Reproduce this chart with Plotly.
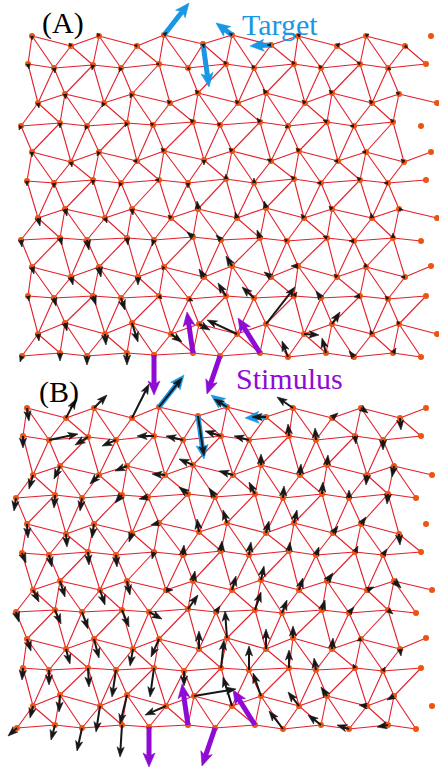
import math
import plotly.graph_objects as go

# ---------------------------------------------------------------------------
# Node positions of the network (pixel units, panel A frame), 12 rows x 13 cols
# ---------------------------------------------------------------------------
NODE_X = [
    [32, 71, 99, 137, 164, 203, 232, 271, 298, 337, 366, 405, 431],
    [28, 54, 93, 121, 159, 188, 226, 254, 294, 321, 360, 388, 426],
    [38, 65, 104, 132, 170, 198, 238, 266, 305, 332, 372, 399, 437],
    [21, 60, 87, 127, 153, 193, 220, 260, 288, 327, 354, 393, 421],
    [32, 71, 99, 137, 164, 204, 232, 271, 299, 338, 366, 404, 431],
    [27, 54, 93, 121, 159, 188, 226, 254, 294, 321, 360, 388, 426],
    [38, 65, 105, 132, 171, 198, 237, 266, 304, 332, 372, 399, 437],
    [21, 60, 87, 127, 154, 193, 221, 260, 287, 327, 354, 393, 421],
    [32, 71, 99, 138, 164, 204, 232, 271, 298, 337, 366, 405, 431],
    [28, 54, 93, 121, 159, 189, 226, 254, 294, 321, 360, 388, 426],
    [38, 65, 105, 132, 171, 199, 237, 266, 304, 332, 372, 399, 437],
    [22, 60, 87, 127, 154, 193, 220, 260, 288, 326, 354, 393, 421],
]
NODE_Y = [
    [36, 46, 36, 46, 35, 44, 35, 45, 36, 46, 36, 46, 36],
    [64, 68, 65, 68, 64, 68, 64, 68, 64, 68, 64, 68, 64],
    [103, 94, 103, 94, 103, 93, 103, 93, 103, 93, 103, 94, 103],
    [126, 123, 126, 123, 125, 122, 125, 122, 126, 122, 126, 122, 126],
    [152, 162, 152, 161, 151, 160, 151, 161, 151, 161, 152, 162, 152],
    [181, 183, 180, 183, 180, 183, 179, 183, 179, 183, 180, 183, 180],
    [218, 209, 218, 209, 218, 209, 218, 208, 218, 209, 218, 209, 218],
    [240, 238, 240, 238, 240, 237, 240, 238, 241, 238, 241, 238, 241],
    [267, 277, 267, 277, 267, 277, 266, 277, 266, 277, 267, 277, 266],
    [296, 298, 296, 298, 296, 299, 296, 298, 296, 298, 296, 299, 296],
    [334, 323, 334, 323, 334, 324, 334, 324, 334, 324, 334, 324, 334],
    [356, 353, 356, 353, 355, 353, 356, 353, 357, 353, 357, 353, 357],
]

# Bonds removed from the full lattice in each panel
MISSING_A = [((1, 5), (2, 4))]
MISSING_B = []

# Bonds reaching the boundary column (col 12)
RIGHT_A = [((1, 12), (0, 11)), ((1, 12), (1, 11)), ((2, 12), (2, 11)),
           ((4, 12), (4, 11)), ((5, 12), (5, 11)), ((6, 12), (6, 11)),
           ((7, 12), (7, 11)), ((8, 12), (8, 11)), ((9, 12), (9, 11)),
           ((9, 12), (10, 11)), ((10, 12), (10, 11)), ((11, 12), (11, 11)),
           ((11, 12), (10, 11))]
RIGHT_B = [((0, 12), (0, 11)), ((1, 12), (0, 11)), ((1, 12), (1, 11)),
           ((2, 12), (2, 11)), ((3, 12), (3, 11)), ((3, 12), (2, 11)),
           ((5, 12), (5, 11)), ((5, 12), (4, 11)), ((6, 12), (6, 11)),
           ((7, 12), (7, 11)), ((7, 12), (6, 11)), ((8, 12), (8, 11)),
           ((9, 12), (9, 11)), ((9, 12), (10, 11)), ((11, 12), (11, 11)),
           ((11, 12), (10, 11))]

# Target displacements (blue) and stimulus displacements (purple)
TARGET = {(0, 4): (25, -32), (0, 5): (6, 43), (0, 6): (-16, -12), (0, 7): (-21, 1)}
STIMULUS = {(11, 4): (0, 40), (11, 5): (-6, -41), (11, 6): (-13, 38), (11, 7): (-22, -35)}

# Node responses (dx, dy) per row, panel A
RESP_A = [
    [(0, 4), (-2, -3), (-2, -3), (-3, -1), (3, -3), (1, 4), (-3, -2), (-4, 0), (3, -3), (3, -3), (3, -2), (3, 2), None],
    [(1, 5), (1, 5), (-1, 5), (-2, 4), (-3, 0), (2, 2), (-2, -3), (-2, -3), (-2, -3), (-2, -3), (-3, -2), (3, 2), None],
    [(1, 5), (1, 5), (-2, 4), (-2, 4), (-3, -3), (-3, -3), (-3, -3), (-3, -4), (-3, -3), (-3, -3), (-3, -3), (-3, -2), None],
    [(-2, 4), (0, 5), (-2, 4), (-2, 4), (-3, -2), (-3, -3), (-3, -2), (-3, -4), (-3, 2), (-4, -2), (-4, 0), (-2, -3), None],
    [(0, 5), (1, 5), (-2, 4), (-4, 0), (-3, -3), (0, 5), (-3, -3), (-4, -2), (-3, -3), (-4, 0), (-4, 0), (-3, -3), None],
    [(0, 5), (0, 5), (0, 5), (-2, 4), (-4, 0), (0, 5), (0, -5), (0, -5), (-3, -3), (-4, 0), (-3, -3), (-4, 0), None],
    [(2, 8), (2, 7), (2, 5), (1, 6), (-3, -3), (-1, -8), (-2, -6), (-2, -7), (-3, -4), (-3, -3), (-1, -5), (4, 1), None],
    [(1, 7), (2, 7), (2, 10), (1, 7), (-2, 6), (-6, -5), (-5, -5), (-3, -8), (-3, -2), (-4, -2), (-5, 0), (0, -5), None],
    [(2, 7), (2, 8), (2, 10), (0, 8), (-2, 3), (-5, -8), (-6, -10), (-7, -5), (-7, 0), (-3, -3), (-1, -4), (-4, 0), None],
    [(1, 5), (2, 8), (3, 9), (4, 12), (3, 3), (4, 2), (-8, -13), (-12, -11), (3, -4), (-5, -7), (-6, 1), (-3, -3), None],
    [(1, 7), (2, 8), (1, 11), (6, 19), (11, 8), (11, 6), (-30, -14), (29, -37), (15, 1), (8, -12), (-2, -4), (-2, -3), None],
    [(-2, 6), (0, 8), (0, 9), (0, 12), None, None, None, None, (-6, -16), (-4, -15), (-5, -6), (3, -5), None],
]

# Node responses (dx, dy) per row, panel B
RESP_B = [
    [(2, 13), (10, -19), (13, -13), (17, -34), (23, -29), (6, 40), (-13, -8), (-14, 0), (-16, -11), (6, -5), (7, 5), (1, 12), None],
    [(0, 12), (29, -6), (-13, 8), (-14, 6), (-17, 0), (-17, -4), (-16, -5), (-15, -4), (-1, -12), (-1, -12), (1, 8), (0, 10), None],
    [(-4, 14), (-6, 13), (-9, 9), (-12, 5), (-13, -1), (-14, -6), (-14, -4), (0, -11), (1, -11), (1, -10), (-1, 10), (-2, 11), None],
    [(-2, 13), (-1, 13), (-2, 13), (-7, 8), (-9, 2), (-9, -7), (-6, -9), (-6, -12), (1, -12), (1, -12), (0, -8), (-1, 10), None],
    [(1, 14), (1, 13), (-2, 14), (-3, 9), (-8, 2), (-2, -13), (-4, -13), (3, -12), (3, -13), (5, -7), (5, -7), (1, 11), None],
    [(4, 10), (3, 12), (1, 13), (1, 12), (-2, 7), (1, -10), (1, -10), (2, -13), (1, -9), (3, -8), (3, -6), (4, -6), None],
    [(6, 12), (5, 16), (5, 15), (3, 14), (7, 0), (2, -10), (4, -14), (3, -14), (4, -12), (6, -8), (7, -3), (7, 7), None],
    [(3, 10), (6, 14), (6, 17), (7, 17), (13, 7), (10, -14), (4, -6), (6, -18), (5, -13), (3, -10), (5, -6), (5, 4), None],
    [(4, 12), (4, 15), (5, 19), (-3, 17), (-8, 18), (0, -18), (-2, -27), (0, -20), (0, -12), (1, -11), (-4, 2), (1, 7), None],
    [(-1, 12), (0, 15), (1, 19), (-4, 27), (-4, 29), (0, 15), (3, -28), (0, -24), (0, -18), (-2, -12), (-2, -4), (2, -4), None],
    [(-3, 12), (-1, 17), (-4, 26), (-7, 29), (-21, 9), (42, -7), (-9, -29), (-8, -23), (-11, -14), (-6, -9), (-8, -1), (-7, 4), None],
    [(-9, 8), (-4, 15), (-5, 23), (-2, 32), None, None, None, None, (-14, -18), (-13, -10), (-12, -4), (-11, 2), None],
]

# Panel placement (pixel offset of each panel's frame)
PANELS = [
    {"name": "(A)", "offset": (0, 0), "missing": MISSING_A, "right": RIGHT_A, "resp": RESP_A},
    {"name": "(B)", "offset": (-5, 372), "missing": MISSING_B, "right": RIGHT_B, "resp": RESP_B},
]

W, H = 439, 767
EDGE_COLOR = "#e41e2b"
NODE_COLOR = "#ec5410"
BLUE = "#1a97e4"
PURPLE = "#8e0bd6"
BLACK = "#161616"
N_ROWS, N_INNER = 12, 12


def lattice_edges():
    """Triangulated bonds among the inner columns 0..11."""
    edges = []
    for r in range(N_ROWS):
        for c in range(N_INNER - 1):
            edges.append(((r, c), (r, c + 1)))
    for r in range(N_ROWS - 1):
        down = r % 4 in (0, 2)
        for c in range(N_INNER):
            if down:
                edges.append(((r, c), (r + 1, c)))
                if c + 1 < N_INNER:
                    edges.append(((r, c), (r + 1, c + 1)))
            else:
                edges.append(((r + 1, c), (r, c)))
                if c + 1 < N_INNER:
                    edges.append(((r + 1, c), (r, c + 1)))
    return edges


def node_xy(node, off):
    r, c = node
    return NODE_X[r][c] + off[0], NODE_Y[r][c] + off[1]


def add_arrow(store, x0, y0, dx, dy, head_len, head_w):
    L = math.hypot(dx, dy)
    if L == 0:
        return
    ux, uy = dx / L, dy / L
    nx, ny = -uy, ux
    hl = min(head_len, L)
    hw = head_w * hl / head_len
    tx, ty = x0 + dx, y0 + dy
    bx, by = tx - ux * hl, ty - uy * hl
    kx, ky = tx - ux * hl * 0.75, ty - uy * hl * 0.75
    store["hx"] += [tx, bx + nx * hw, kx, bx - nx * hw, tx, None]
    store["hy"] += [ty, by + ny * hw, ky, by - ny * hw, ty, None]
    if L > hl * 0.8:
        store["sx"] += [x0, kx, None]
        store["sy"] += [y0, ky, None]


def new_store():
    return {"sx": [], "sy": [], "hx": [], "hy": []}


fig = go.Figure()
base_edges = lattice_edges()
colored = {BLUE: new_store(), PURPLE: new_store()}
black = new_store()

for panel in PANELS:
    off = panel["offset"]
    miss = {frozenset(e) for e in panel["missing"]}
    edges = [e for e in base_edges if frozenset(e) not in miss] + panel["right"]
    ex, ey = [], []
    for a, b in edges:
        xa, ya = node_xy(a, off)
        xb, yb = node_xy(b, off)
        ex += [xa, xb, None]
        ey += [ya, yb, None]
    fig.add_trace(go.Scatter(x=ex, y=ey, mode="lines", hoverinfo="skip",
                             line=dict(color=EDGE_COLOR, width=1.1)))
    nx_ = [NODE_X[r][c] + off[0] for r in range(N_ROWS) for c in range(13)]
    ny_ = [NODE_Y[r][c] + off[1] for r in range(N_ROWS) for c in range(13)]
    fig.add_trace(go.Scatter(x=nx_, y=ny_, mode="markers", hoverinfo="skip",
                             marker=dict(color=NODE_COLOR, size=6, line=dict(width=0))))

    for node, (dx, dy) in TARGET.items():
        x0, y0 = node_xy(node, off)
        add_arrow(colored[BLUE], x0, y0, dx, dy, 14, 6)
    for node, (dx, dy) in STIMULUS.items():
        x0, y0 = node_xy(node, off)
        add_arrow(colored[PURPLE], x0, y0, dx, dy, 14, 6)
    for r, row in enumerate(panel["resp"]):
        for c, v in enumerate(row):
            if v is None:
                continue
            x0, y0 = node_xy((r, c), off)
            add_arrow(black, x0, y0, v[0], v[1], 10, 3.6)

for color, st in colored.items():
    fig.add_trace(go.Scatter(x=st["sx"], y=st["sy"], mode="lines", hoverinfo="skip",
                             line=dict(color=color, width=5)))
    fig.add_trace(go.Scatter(x=st["hx"], y=st["hy"], mode="lines", fill="toself",
                             fillcolor=color, hoverinfo="skip",
                             line=dict(color=color, width=0.6)))
fig.add_trace(go.Scatter(x=black["sx"], y=black["sy"], mode="lines", hoverinfo="skip",
                         line=dict(color=BLACK, width=2)))
fig.add_trace(go.Scatter(x=black["hx"], y=black["hy"], mode="lines", fill="toself",
                         fillcolor=BLACK, hoverinfo="skip",
                         line=dict(color=BLACK, width=0.6)))

# Text labels
SERIF = "Liberation Serif"
labels = [
    ("(A)", 63, 23, "black"),
    ("(B)", 59, 392, "black"),
    ("Target", 280, 24, BLUE),
    ("Stimulus", 289, 378, PURPLE),
]
for text, x, y, col in labels:
    fig.add_annotation(x=x, y=y, xref="x", yref="y", text=text, showarrow=False,
                       font=dict(family=SERIF, size=30, color=col),
                       xanchor="center", yanchor="middle")

fig.update_layout(
    width=W, height=H,
    margin=dict(l=0, r=0, t=0, b=0),
    paper_bgcolor="white", plot_bgcolor="white",
    showlegend=False,
    xaxis=dict(range=[0, W], visible=False, fixedrange=True),
    yaxis=dict(range=[H, 0], visible=False, fixedrange=True),
)

fig.write_html("out.html")
